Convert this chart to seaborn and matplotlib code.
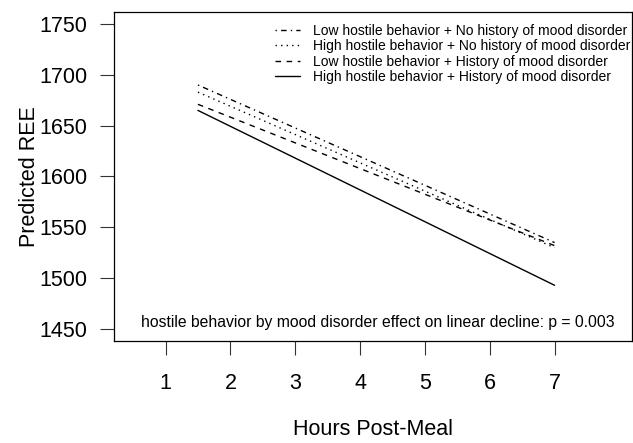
import numpy as np
import pandas as pd
import matplotlib
matplotlib.use("Agg")
import matplotlib.pyplot as plt
import seaborn as sns
from matplotlib.lines import Line2D

# ---- data ----
hours = [1.5, 7.0]
groups = [
    "Low hostile behavior + No history of mood disorder",
    "High hostile behavior + No history of mood disorder",
    "Low hostile behavior + History of mood disorder",
    "High hostile behavior + History of mood disorder",
]
low_nohist = [1690, 1535]
high_nohist = [1683, 1530]
low_hist = [1671, 1532]
high_hist = [1665, 1493]
x_ticks = [1, 2, 3, 4, 5, 6, 7]
y_ticks = [1450, 1500, 1550, 1600, 1650, 1700, 1750]
annotation = "hostile behavior by mood disorder effect on linear decline: p = 0.003"

values = [low_nohist, high_nohist, low_hist, high_hist]
rows = []
for g, vals in zip(groups, values):
    for h, v in zip(hours, vals):
        rows.append({"Hours": h, "REE": v, "Group": g})
df = pd.DataFrame(rows)

sns.set_theme(style="white")
plt.rcParams['font.family'] = ['Liberation Sans', 'DejaVu Sans']
plt.rcParams['text.color'] = 'black'
plt.rcParams['axes.labelcolor'] = 'black'

dash_map = {
    groups[0]: (1, 3, 4, 3),
    groups[1]: (1, 3),
    groups[2]: (4, 4),
    groups[3]: "",
}

fig = plt.figure(figsize=(6.33, 4.43), dpi=100)
ax = fig.add_axes([114/633, 1-341/443, 1-114/633-0.002, (341-12)/443])

sns.lineplot(data=df, x="Hours", y="REE", style="Group", style_order=groups,
             dashes=dash_map, color="black", linewidth=1.0, ax=ax, legend=False)

ax.set_xlim(0.205, 8.19)
ax.set_ylim(1438.2, 1761.8)
ax.set_xticks(x_ticks)
ax.set_yticks(y_ticks)
ax.tick_params(axis="both", direction="out", length=10, width=0.8, color="#333333",
               labelsize=15.5, labelcolor="black", bottom=True, left=True)
ax.tick_params(axis="x", pad=13)
ax.tick_params(axis="y", pad=9)
for s in ax.spines.values():
    s.set_visible(True)
    s.set_color("black")
    s.set_linewidth(0.9)

ax.set_xlabel("Hours Post-Meal", fontsize=15.5)
ax.set_ylabel("Predicted REE", fontsize=15.5)
ax.xaxis.set_label_coords(0.5, -0.27)
ax.xaxis.label.set_va("center")
ax.yaxis.set_label_coords(-0.164, 0.5)
ax.yaxis.label.set_va("center")

ax.text(4.28, 1456, annotation, ha="center", va="center", fontsize=11.3)

handles = []
for g in groups:
    d = dash_map[g]
    if d == "":
        handles.append(Line2D([], [], color="black", lw=1.0, linestyle="-"))
    else:
        handles.append(Line2D([], [], color="black", lw=1.0, linestyle=(0, d)))
leg = ax.legend(handles, groups, loc="upper right", bbox_to_anchor=(0.998, 0.964),
                frameon=False, fontsize=10, handlelength=1.8, handletextpad=0.94,
                labelspacing=0.1, borderaxespad=0.0, borderpad=0.0)

fig.savefig("out.png", dpi=100)
